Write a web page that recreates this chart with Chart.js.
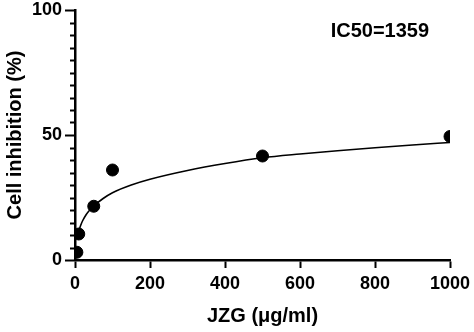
<!DOCTYPE html>
<html>
<head>
<meta charset="utf-8">
<script src="https://cdn.jsdelivr.net/npm/chart.js@4"></script>
<style>
  html, body { margin: 0; padding: 0; background: #fff; }
  #wrap { width: 474px; height: 332px; }
</style>
</head>
<body>
<div id="wrap"><canvas id="ic50Chart"></canvas></div>
<script>
// measured points
const dose = [5, 10, 50, 100, 500, 1000];
const inhibition = [3.1, 10.4, 21.5, 36, 41.6, 49.4];

// fitted curve
const fitDose = [5, 10, 15, 20, 30, 40, 50, 75, 100, 150, 200, 300, 400, 500, 600, 700, 800, 900, 1000];
const fitInhibition = [8.5, 11.5, 13.8, 15.6, 18.2, 20.1, 21.6, 24.6, 26.9, 30, 32.3, 35.8, 38.6, 40.9, 42.4, 43.7, 44.9, 46, 47];

const xTicks = [0, 200, 400, 600, 800, 1000];
const yTicks = [0, 50, 100];
const yMinorTicks = [5, 10, 15, 20, 25, 30, 35, 40, 45, 55, 60, 65, 70, 75, 80, 85, 90, 95];

const annotationText = "IC50=1359";

const FONT = "'Liberation Sans', Arial, sans-serif";

const extras = {
  id: "extras",
  afterDraw(chart) {
    const ctx = chart.ctx;
    const y = chart.scales.y;
    const x = chart.scales.x;
    ctx.save();
    ctx.strokeStyle = "#000";
    ctx.lineWidth = 2;
    yMinorTicks.forEach(v => {
      const py = Math.round(y.getPixelForValue(v)) + 0.5;
      ctx.beginPath();
      ctx.moveTo(x.left - 5, py);
      ctx.lineTo(x.left, py);
      ctx.stroke();
    });
    ctx.fillStyle = "#000";
    ctx.font = "bold 20px " + FONT;
    ctx.textAlign = "center";
    ctx.textBaseline = "middle";
    ctx.fillText(annotationText, x.getPixelForValue(813), y.getPixelForValue(91.5));
    ctx.restore();
  }
};

new Chart(document.getElementById("ic50Chart").getContext("2d"), {
  type: "scatter",
  data: {
    datasets: [
      {
        data: dose.map((d, i) => ({ x: d, y: inhibition[i] })),
        backgroundColor: "#000",
        borderColor: "#000",
        pointRadius: 6,
        pointHoverRadius: 6
      },
      {
        data: fitDose.map((d, i) => ({ x: d, y: fitInhibition[i] })),
        showLine: true,
        borderColor: "#000",
        borderWidth: 1.6,
        pointRadius: 0,
        cubicInterpolationMode: "monotone"
      }
    ]
  },
  options: {
    responsive: true,
    maintainAspectRatio: false,
    animation: false,
    layout: { padding: { top: 10, right: 24, left: 0, bottom: 0 } },
    plugins: { legend: { display: false }, tooltip: { enabled: false } },
    scales: {
      x: {
        type: "linear",
        min: 0,
        max: 1000,
        afterFit: s => { s.height = 72; s.paddingLeft = 0; s.paddingRight = 0; },
        afterBuildTicks: s => { s.ticks = xTicks.map(v => ({ value: v })); },
        border: { color: "#000", width: 2.5 },
        grid: { drawOnChartArea: false, tickLength: 8, tickColor: "#000", tickWidth: 2 },
        ticks: { color: "#000", padding: 5, callback: v => String(v), font: { family: FONT, size: 18, weight: "bold" } },
        title: {
          display: true,
          text: "JZG (\u03bcg/ml)",
          color: "#000",
          padding: { top: 0, bottom: 4 },
          font: { family: FONT, size: 20, weight: "bold" }
        }
      },
      y: {
        min: 0,
        max: 100,
        afterFit: s => { s.width = 75; s.paddingTop = 0; s.paddingBottom = 0; },
        afterBuildTicks: s => { s.ticks = yTicks.map(v => ({ value: v })); },
        border: { color: "#000", width: 2.5 },
        grid: { drawOnChartArea: false, tickLength: 10, tickColor: "#000", tickWidth: 2 },
        ticks: { color: "#000", padding: 3, callback: v => String(v), font: { family: FONT, size: 18, weight: "bold" } },
        title: {
          display: true,
          text: "Cell inhibition (%)",
          color: "#000",
          padding: { top: 3, bottom: 0 },
          font: { family: FONT, size: 20, weight: "bold" }
        }
      }
    }
  },
  plugins: [extras]
});
</script>
</body>
</html>
